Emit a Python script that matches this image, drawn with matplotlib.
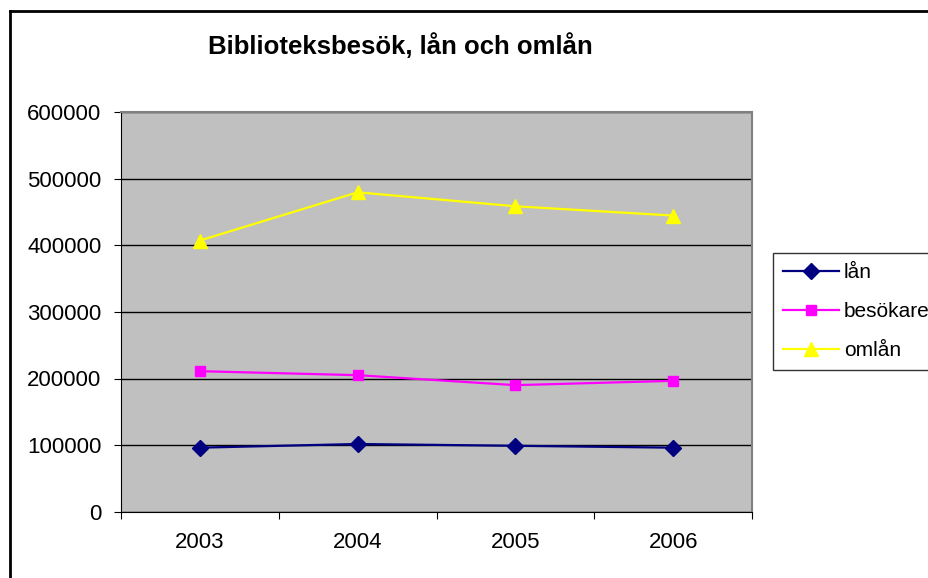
import matplotlib.pyplot as plt
from matplotlib.lines import Line2D

# Data
years = ['2003', '2004', '2005', '2006']
lan = [96000, 101500, 98800, 96000]
besokare = [211000, 205000, 190000, 196500]
omlan = [407500, 480000, 459000, 445000]
y_ticks = [0, 100000, 200000, 300000, 400000, 500000, 600000]

plt.rcParams['font.family'] = ['Liberation Sans', 'DejaVu Sans']

fig = plt.figure(figsize=(9.29, 5.78), dpi=100)
W, H = 929, 578

# outer chart border (only left and top visible)
fig.add_artist(Line2D([10.5 / W, 10.5 / W], [0, 1 - 10.5 / H], color='black', lw=2))
fig.add_artist(Line2D([10.5 / W, 1], [1 - 10.5 / H, 1 - 10.5 / H], color='black', lw=2))

ax = fig.add_axes([121 / W, (H - 511.5) / H, 631 / W, 399 / H])
ax.set_facecolor('#C0C0C0')

x = range(len(years))
ax.plot(x, lan, color='#000080', marker='D', markersize=8, lw=1.6, label='lån')
ax.plot(x, besokare, color='#FF00FF', marker='s', markersize=7.5, lw=1.6, label='besökare')
ax.plot(x, omlan, color='#FFFF00', marker='^', markersize=9.5, lw=1.6, label='omlån')

ax.set_ylim(0, 600000)
ax.set_xlim(-0.5, len(years) - 0.5)
ax.set_yticks(y_ticks)
ax.set_yticklabels([str(v) for v in y_ticks], fontsize=16)
ax.yaxis.grid(True, color='black', lw=1)
ax.set_axisbelow(True)

# category boundaries as ticks, labels centred
ax.set_xticks([i - 0.5 for i in range(len(years) + 1)])
ax.set_xticklabels([])
ax.set_xticks(list(x), minor=True)
ax.set_xticklabels(years, minor=True, fontsize=16)
ax.tick_params(axis='x', which='minor', length=0, pad=15)
ax.tick_params(axis='x', which='major', length=5, direction='out')
ax.tick_params(axis='y', length=5, direction='out', pad=9)

for s in ['top', 'right']:
    ax.spines[s].set_color('#808080')
    ax.spines[s].set_linewidth(1.5)
for s in ['left', 'bottom']:
    ax.spines[s].set_color('black')

fig.text(400 / W, 1 - 46 / H, 'Biblioteksbesök, lån och omlån', ha='center', va='center',
         fontsize=18.5, fontweight='bold')

leg = fig.legend(loc='upper left', bbox_to_anchor=(773 / W, 1 - 253 / H), fontsize=15,
                 frameon=True, fancybox=False, edgecolor='black', handlelength=2.65,
                 borderpad=0.5, labelspacing=0.95, handletextpad=0.25, borderaxespad=0)
leg.get_frame().set_linewidth(1)

fig.savefig('out.png', dpi=100)
